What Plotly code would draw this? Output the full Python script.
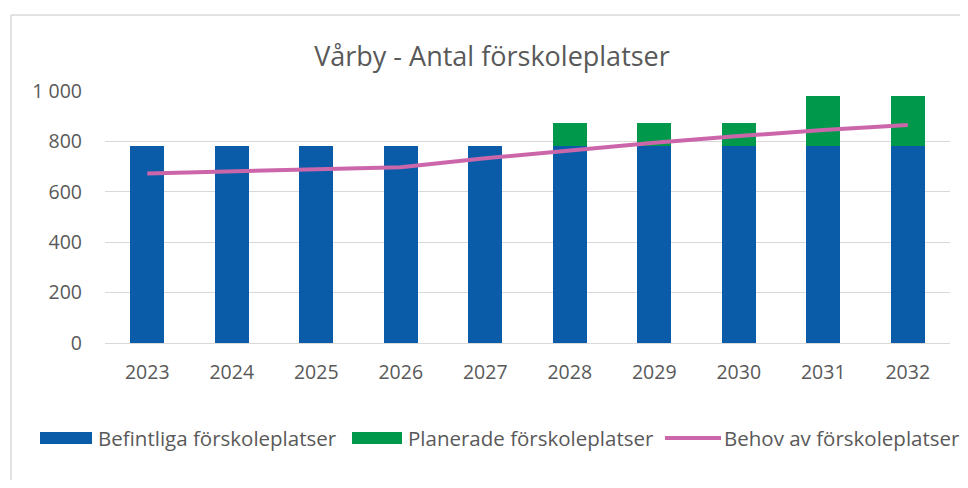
import plotly.graph_objects as go

years = ["2023", "2024", "2025", "2026", "2027", "2028", "2029", "2030", "2031", "2032"]
befintliga = [780, 780, 780, 780, 780, 780, 780, 780, 780, 780]
planerade = [0, 0, 0, 0, 0, 95, 95, 95, 200, 200]
behov = [673, 680, 690, 697, 733, 763, 795, 821, 845, 865]
ytick_vals = [0, 200, 400, 600, 800, 1000]
ytick_text = ["0", "200", "400", "600", "800", "1 000"]
series_names = ["Befintliga förskoleplatser", "Planerade förskoleplatser", "Behov av förskoleplatser"]

FONT = "Open Sans"
GRAY = "#595959"
BLUE, GREEN, PINK = "#0A5CA8", "#00994C", "#CC66AA"

# the page body has an 8px margin; positions below measured in the reference image
def px(x):
    return (x - 105) / 845.0

def py(y):
    return (343 - y) / 252.0

fig = go.Figure()
fig.add_trace(go.Bar(x=years, y=befintliga, name=series_names[0],
                     marker=dict(color=BLUE, line=dict(width=0))))
fig.add_trace(go.Bar(x=years, y=planerade, name=series_names[1],
                     marker=dict(color=GREEN, line=dict(width=0))))
fig.add_trace(go.Scatter(x=years, y=behov, name=series_names[2],
                         mode="lines", line=dict(color=PINK, width=4)))

shapes = [
    # chart frame: left and top edges (right/bottom lie outside the visible area)
    dict(type="line", xref="paper", yref="paper", x0=px(11), x1=px(11), y0=py(500), y1=py(15),
         line=dict(color="#D9D9D9", width=1.5)),
    dict(type="line", xref="paper", yref="paper", x0=px(11), x1=px(985), y0=py(15), y1=py(15),
         line=dict(color="#D9D9D9", width=1.5)),
    dict(type="rect", xref="paper", yref="paper", x0=px(40), x1=px(92), y0=py(444), y1=py(432),
         line=dict(width=0), fillcolor=BLUE),
    dict(type="rect", xref="paper", yref="paper", x0=px(352), x1=px(402), y0=py(444), y1=py(432),
         line=dict(width=0), fillcolor=GREEN),
    dict(type="line", xref="paper", yref="paper", x0=px(665), x1=px(721), y0=py(438), y1=py(438),
         line=dict(color=PINK, width=4)),
]
annotations = []
for name, xpos in zip(series_names, [96, 406, 722]):
    annotations.append(dict(text=name, xref="paper", yref="paper", x=px(xpos), y=py(438),
                            xanchor="left", yanchor="middle", showarrow=False,
                            font=dict(family=FONT, size=20.5, color=GRAY)))

fig.update_layout(
    width=960, height=472,
    barmode="stack", bargap=0.6,
    paper_bgcolor="white", plot_bgcolor="white",
    margin=dict(l=97, r=18, t=83, b=137),
    font=dict(family=FONT, color=GRAY, size=19.5),
    title=dict(text="Vårby - Antal förskoleplatser", x=(492 - 8) / 960, xanchor="center",
               y=1 - 49 / 472, yanchor="middle",
               font=dict(family=FONT, size=27, color=GRAY)),
    showlegend=False,
    xaxis=dict(showgrid=False, showline=True, linecolor="#D9D9D9", linewidth=1,
               ticks="", tickfont=dict(size=19.5, color=GRAY), ticklabelstandoff=12),
    yaxis=dict(range=[0, 1000], tickvals=ytick_vals, ticktext=ytick_text,
               showgrid=True, gridcolor="#D9D9D9", gridwidth=1, zeroline=False,
               showline=False, ticks="", tickfont=dict(size=19.5, color=GRAY),
               ticklabelstandoff=22),
    shapes=shapes,
    annotations=annotations,
)

fig.write_html("out.html")
